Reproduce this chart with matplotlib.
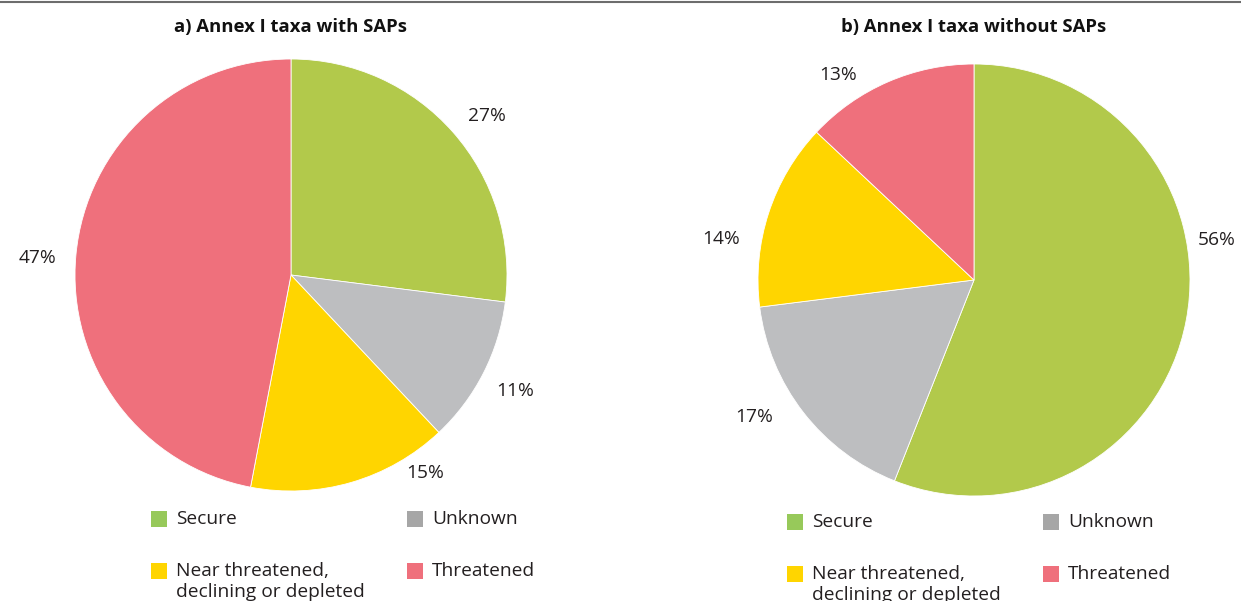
import numpy as np
import matplotlib
matplotlib.use('Agg')
import matplotlib.pyplot as plt
from matplotlib.patches import Rectangle
from matplotlib.lines import Line2D

plt.rcParams['font.family'] = ['Open Sans', 'DejaVu Sans']

# Data
categories = ['Secure', 'Unknown', 'Near threatened,\ndeclining or depleted', 'Threatened']
with_saps = [27, 11, 15, 47]
without_saps = [56, 17, 14, 13]
titles = ['a) Annex I taxa with SAPs', 'b) Annex I taxa without SAPs']

colors = ['#b2c94b', '#bdbec0', '#ffd500', '#ef707c']
legend_colors = ['#97c95a', '#a6a6a6', '#ffd500', '#ef707c']

# label placement (angle in degrees, distance in radii) - mimic the original layout
label_pos = [
    [(39, 1.167), (-27.3, 1.17), (-55.9, 1.107), (176.2, 1.175)],
    [(9.3, 1.14), (-148, 1.20), (170.8, 1.185), (123.6, 1.14)],
]

W, H = 1241, 601
fig = plt.figure(figsize=(W / 100, H / 100), dpi=100)

# thin grey rule along the top
fig.add_artist(Line2D([0, 1], [1 - 1.5 / H, 1 - 1.5 / H], color='#6d6d6d', lw=1.5))

centers = [(291, 275), (974, 280)]
radius = 216
legend_origin = [(151, 511), (787, 514)]   # top-left of first legend square
title_y = 27

for i, vals in enumerate([with_saps, without_saps]):
    cx, cy = centers[i]
    ax = fig.add_axes([(cx - radius) / W, (H - cy - radius) / H, 2 * radius / W, 2 * radius / H])
    ax.pie(vals, colors=colors, startangle=90, counterclock=False, radius=1,
           wedgeprops=dict(edgecolor='white', linewidth=0.6))
    ax.set_xlim(-1, 1)
    ax.set_ylim(-1, 1)
    ax.set_aspect('equal')
    ax.axis('off')
    for v, (ang, r) in zip(vals, label_pos[i]):
        a = np.deg2rad(ang)
        ax.text(r * np.cos(a), r * np.sin(a), f'{v}%', ha='center', va='center',
                fontsize=13.8, color='#231f20', clip_on=False)

    fig.text(cx / W, 1 - title_y / H, titles[i], ha='center', va='center',
             fontsize=13.3, fontweight='bold', color='#111111')

    # legend, two columns
    lx, ly = legend_origin[i]
    sq = 15.5
    col_dx = 256
    row_dy = 52
    for k, name in enumerate(categories):
        col = k % 2
        row = k // 2
        x0 = lx + col * col_dx
        y0 = ly + row * row_dy
        fig.add_artist(Rectangle((x0 / W, 1 - (y0 + sq) / H), sq / W, sq / H,
                                 transform=fig.transFigure, color=legend_colors[k], lw=0))
        fig.text((x0 + 25) / W, 1 - (y0 + sq / 2) / H, name.split('\n')[0],
                 ha='left', va='center', fontsize=13.8, color='#231f20')
        if '\n' in name:
            fig.text((x0 + 25) / W, 1 - (y0 + sq / 2 + 21) / H, name.split('\n')[1],
                     ha='left', va='center', fontsize=13.8, color='#231f20')

fig.savefig('out.png', dpi=100, facecolor='white')
